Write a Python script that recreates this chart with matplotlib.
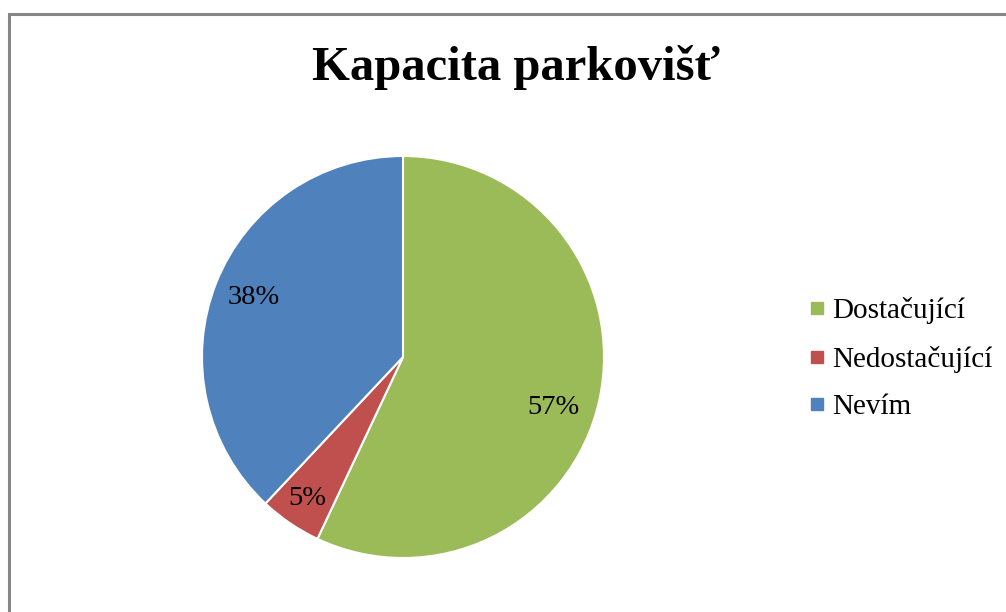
import matplotlib
matplotlib.use("Agg")
import matplotlib.pyplot as plt
from matplotlib.patches import Rectangle
from matplotlib.lines import Line2D

plt.rcParams["font.family"] = ["Liberation Serif", "DejaVu Serif"]

# data
labels = ["Dostačující", "Nedostačující", "Nevím"]
values = [57, 5, 38]
colors = ["#9BBB59", "#C0504D", "#4F81BD"]
title = "Kapacita parkovišť"

W, H = 1006, 612
fig = plt.figure(figsize=(W / 100, H / 100), dpi=100)

# chart frame (extends past right/bottom edges)
fig.patches.append(Rectangle((9 / W, -0.1), 1.2, (H - 14) / H + 0.1,
                             transform=fig.transFigure, fill=False,
                             edgecolor="#868686", lw=2.2))

# pie axes: centre (403, 357) px, radius 201 px
cx, cy, r = 403, 357, 201
ax = fig.add_axes([(cx - r) / W, (H - cy - r) / H, 2 * r / W, 2 * r / H])
wedges, texts, autotexts = ax.pie(
    values, colors=colors, startangle=90, counterclock=False,
    autopct="%d%%", pctdistance=0.8, radius=1,
    wedgeprops=dict(edgecolor="white", linewidth=1.5),
    textprops=dict(fontsize=20.5, color="black"))
ax.set_xlim(-1, 1); ax.set_ylim(-1, 1)
ax.set_aspect("equal")
# Excel "best fit" label placement nudges
x0, y0 = autotexts[0].get_position()
autotexts[0].set_position((x0 - 0.03, y0 - 0.075))
x1, y1 = autotexts[1].get_position()
autotexts[1].set_position((x1 * 0.85 / 0.8, y1 * 0.85 / 0.8))

fig.text(516 / W, 1 - 68 / H, title, ha="center", va="center",
         fontsize=35, fontweight="bold")

handles = [Line2D([], [], marker="s", ls="", markersize=9.3,
                  markerfacecolor=c, markeredgecolor=c) for c in colors]
fig.legend(handles, labels, loc="center left",
           bbox_to_anchor=(794 / W, 1 - 359 / H), frameon=False,
           fontsize=21, handlelength=0.55, handletextpad=0.25,
           labelspacing=0.73, borderpad=0)

fig.savefig("out.png", dpi=100)
